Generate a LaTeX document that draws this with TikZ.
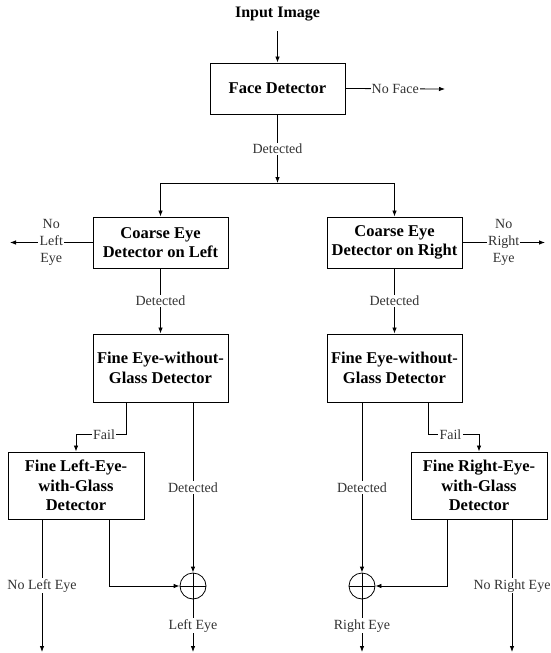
\documentclass[tikz,border=0pt]{standalone}
\usepackage{fontspec}
\setmainfont{Liberation Serif}
\usetikzlibrary{arrows.meta}
\begin{document}
\begin{tikzpicture}[x=1pt,y=-1pt,
 box/.style={draw, line width=0.9pt, minimum width=135pt, align=center, font=\fontsize{16.5}{19.5}\selectfont\bfseries, inner sep=0pt},
 lbl/.style={fill=white, inner sep=1.2pt, font=\fontsize{14}{17}\selectfont, text=black!80, align=center},
 arr/.style={line width=0.8pt, -{Latex[length=6pt,width=4.5pt]}},
 ln/.style={line width=0.8pt},
 sumnode/.style={circle, draw, line width=0.8pt, minimum size=26pt, inner sep=0pt}]
\useasboundingbox (0,0) rectangle (550,653);

% nodes
\node[font=\fontsize{16}{19}\selectfont\bfseries, inner sep=2pt] (in) at (277.5,14) {Input Image};
\node[box, minimum height=51pt] (face) at (277.5,88.5) {Face Detector};
\node[box, minimum height=51pt] (lcoarse) at (160.5,242.5) {Coarse Eye\\Detector on Left};
\node[box, minimum height=51pt] (rcoarse) at (394.5,242.5) {Coarse Eye\\Detector on Right};
\node[box, minimum height=68pt] (lfine) at (160.5,368) {Fine Eye-without-\\Glass Detector};
\node[box, minimum height=68pt] (rfine) at (394.5,368) {Fine Eye-without-\\Glass Detector};
\node[box, minimum height=67pt, minimum width=136pt] (lglass) at (76,485.5) {Fine Left-Eye-\\with-Glass\\Detector};
\node[box, minimum height=67pt, minimum width=136pt] (rglass) at (479,485.5) {Fine Right-Eye-\\with-Glass\\Detector};
\node[sumnode] (lsum) at (193,586) {};
\node[sumnode] (rsum) at (362,586) {};

% free ends
\coordinate (split) at (277.5,183);
\coordinate (nofaceend) at (445,89);
\coordinate (nleftend) at (10,242.5);
\coordinate (nrightend) at (545,242.5);
\coordinate (nleyeend) at (42,652);
\coordinate (leyeend) at (193,652);
\coordinate (reyeend) at (362,652);
\coordinate (nreyeend) at (512,652);

% top
\draw[arr] ([yshift=-8pt]in.south) -- (face.north);
\draw[arr] (face.east) -- node[lbl]{No Face} (nofaceend);
\draw[arr] (face.south) -- node[lbl]{Detected} (split);
\draw[arr] (split) -| (lcoarse.north);
\draw[arr] (split) -| (rcoarse.north);

% coarse
\draw[arr] (lcoarse.west) -- node[lbl]{No\\Left\\Eye} (nleftend);
\draw[arr] (rcoarse.east) -- node[lbl]{No\\Right\\Eye} (nrightend);
\draw[arr] (lcoarse.south) -- node[lbl]{Detected} (lfine.north);
\draw[arr] (rcoarse.south) -- node[lbl]{Detected} (rfine.north);

% fine without glass -> fail
\draw[arr] ([xshift=-34.5pt]lfine.south) -- ++(0,32) -| node[lbl, pos=0.22]{Fail} (lglass.north);
\draw[arr] ([xshift=33.5pt]rfine.south) -- ++(0,32) -| node[lbl, pos=0.22]{Fail} (rglass.north);

% detected -> sum
\draw[arr] ([xshift=32.5pt]lfine.south) -- node[lbl]{Detected} (lsum.north);
\draw[arr] ([xshift=-32.5pt]rfine.south) -- node[lbl]{Detected} (rsum.north);

% glass -> sum
\draw[arr] ([xshift=33pt]lglass.south) |- (lsum.west);
\draw[arr] ([xshift=-32pt]rglass.south) |- (rsum.east);

% sum cross
\draw[ln] (lsum.north) -- (lsum.south) (lsum.west) -- (lsum.east);
\draw[ln] (rsum.north) -- (rsum.south) (rsum.west) -- (rsum.east);

% outputs
\draw[arr] ([xshift=-34pt]lglass.south) -- node[lbl]{No Left Eye} (nleyeend);
\draw[arr] ([xshift=33pt]rglass.south) -- node[lbl]{No Right Eye} (nreyeend);
\draw[arr] (lsum.south) -- node[lbl]{Left Eye} (leyeend);
\draw[arr] (rsum.south) -- node[lbl]{Right Eye} (reyeend);
\end{tikzpicture}
\end{document}
